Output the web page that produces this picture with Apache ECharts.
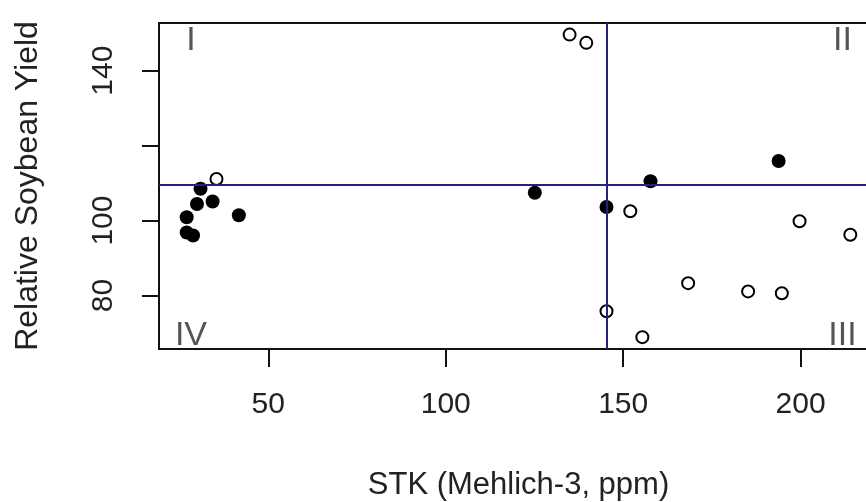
<!DOCTYPE html>
<html>
<head>
<meta charset="utf-8">
<script src="https://cdn.jsdelivr.net/npm/echarts@6/dist/echarts.min.js"></script>
<style>
html,body{margin:0;padding:0;background:#fff;}
#chart{width:866px;height:502px;}
</style>
</head>
<body>
<div id="chart"></div>
<script>
// Filled points (x = STK ppm, y = relative yield)
var filledX = [27.0, 27.0, 28.8, 30.9, 29.9, 34.3, 41.7, 125.1, 145.3, 157.7, 193.8];
var filledY = [100.9, 96.8, 96.0, 108.5, 104.4, 105.1, 101.4, 107.4, 103.6, 110.5, 115.9];
// Open points
var openX = [35.4, 134.9, 139.6, 152.0, 199.7, 214.0, 168.3, 185.2, 194.7, 145.3, 155.4];
var openY = [111.1, 149.6, 147.4, 102.5, 99.8, 96.2, 83.3, 81.1, 80.6, 75.8, 68.9];
// Critical values (reference lines)
var critX = 145.3;
var critY = 109.6;
// Quadrant labels
var quadText = ['I', 'II', 'III', 'IV'];
var quadX = [28.2, 211.8, 211.8, 28.2];
var quadY = [148.1, 148.1, 69.2, 69.2];
// Tick values / labels
var xTicks = [50, 100, 150, 200];
var yTicks = [80, 100, 120, 140];
var yLabels = [80, 100, 140];
var xRange = [19.2, 221.8];
var yRange = [65.74, 152.7];

function pairs(xs, ys) { return xs.map(function (x, i) { return [x, ys[i]]; }); }

var chart = echarts.init(document.getElementById('chart'), null, {renderer: 'canvas'});
var font = 'Liberation Sans, Arial, sans-serif';
chart.setOption({
  animation: false,
  grid: {left: 159, top: 23, width: 719, height: 326, show: true, borderColor: '#111', borderWidth: 2,
         backgroundColor: 'transparent', containLabel: false, outerBoundsMode: 'none'},
  xAxis: {
    type: 'value', min: xRange[0], max: xRange[1],
    splitLine: {show: false},
    axisLine: {show: false},
    axisTick: {show: true, length: 18, lineStyle: {color: '#111', width: 2}, customValues: xTicks},
    axisLabel: {show: true, margin: 41, fontSize: 30, color: '#222', fontFamily: font, customValues: xTicks},
    name: 'STK (Mehlich-3, ppm)', nameLocation: 'middle', nameGap: 121,
    nameTextStyle: {fontSize: 31, color: '#222', fontFamily: font}
  },
  yAxis: {
    type: 'value', min: yRange[0], max: yRange[1],
    splitLine: {show: false},
    axisLine: {show: false},
    axisTick: {show: true, length: 17, lineStyle: {color: '#111', width: 2}, customValues: yTicks},
    axisLabel: {show: true, rotate: 90, margin: 40, fontSize: 30, color: '#222', fontFamily: font, customValues: yLabels},
    name: 'Relative Soybean Yield', nameLocation: 'middle', nameGap: 115, nameRotate: 90,
    nameTextStyle: {fontSize: 32, color: '#222', fontFamily: font}
  },
  series: [
    {
      type: 'scatter', data: pairs(filledX, filledY), symbol: 'circle', symbolSize: 14,
      itemStyle: {color: '#000', opacity: 1}, z: 3
    },
    {
      type: 'scatter', data: pairs(openX, openY), symbol: 'circle', symbolSize: 12,
      itemStyle: {color: '#fff', borderColor: '#000', borderWidth: 2, opacity: 1}, z: 3
    },
    {
      type: 'scatter', symbolSize: 0, z: 2,
      data: quadText.map(function (t, i) { return {name: t, value: [quadX[i], quadY[i]]}; }),
      label: {show: true, position: 'inside', formatter: '{b}', fontSize: 34, color: '#2a2a2a', fontFamily: font}
    },
    {
      type: 'scatter', data: [], z: 5,
      markLine: {
        silent: true, symbol: ['none', 'none'], label: {show: false},
        lineStyle: {color: '#23237f', width: 2, type: 'solid'},
        data: [{xAxis: critX}, {yAxis: critY}]
      }
    }
  ]
});
</script>
</body>
</html>
